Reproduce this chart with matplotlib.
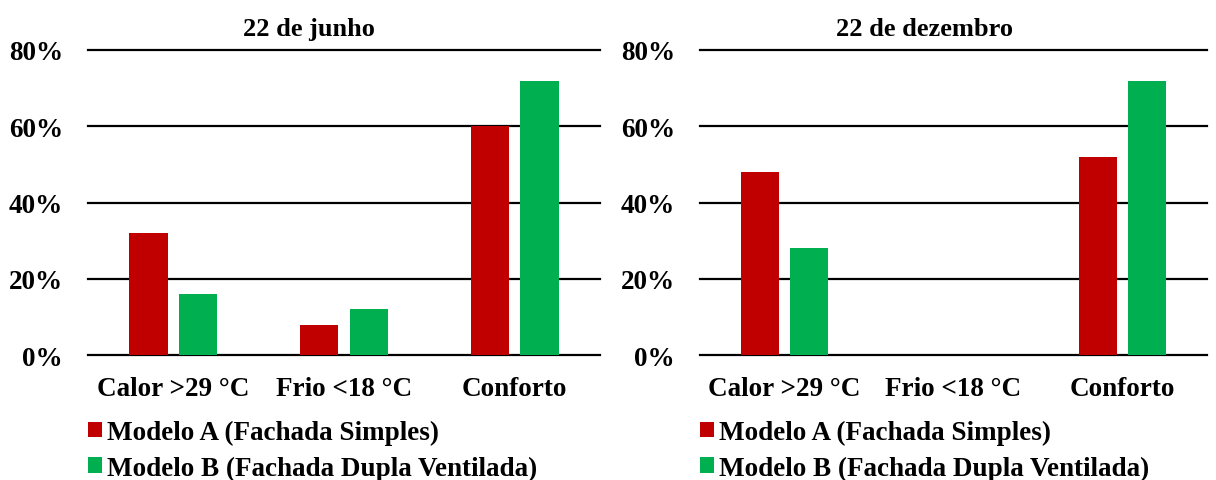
import matplotlib
matplotlib.use("Agg")
import matplotlib.pyplot as plt
import numpy as np

plt.rcParams['font.family'] = ['Liberation Serif', 'DejaVu Serif']
plt.rcParams['font.weight'] = 'bold'

categories = ["Calor >29 °C", "Frio <18 °C", "Conforto"]
series_names = ["Modelo A (Fachada Simples)", "Modelo B (Fachada Dupla Ventilada)"]
titles = ["22 de junho", "22 de dezembro"]
june_A = [32, 8, 60]
june_B = [16, 12, 72]
dec_A = [48, 0, 52]
dec_B = [28, 0, 72]
yticks = [0, 20, 40, 60, 80]
ytick_labels = ["0%", "20%", "40%", "60%", "80%"]
colors = ["#C00000", "#00B050"]

fig = plt.figure(figsize=(12.16, 4.81), dpi=100)
ax1 = fig.add_axes([88/1216, 1-356/481, 512/1216, 305/481])
ax2 = fig.add_axes([700/1216, 1-356/481, 507/1216, 305/481])

FS = 19.5
x = np.arange(len(categories))
w = 0.225
off = 0.145
for ax, A, B, title, tx in [(ax1, june_A, june_B, titles[0], 0.432),
                            (ax2, dec_A, dec_B, titles[1], 0.442)]:
    ax.bar(x - off, A, width=w, color=colors[0], label=series_names[0], zorder=3)
    ax.bar(x + off, B, width=w, color=colors[1], label=series_names[1], zorder=3)
    ax.set_xlim(-0.5, 2.5)
    ax.set_ylim(0, 80)
    ax.set_yticks(yticks)
    ax.set_yticklabels(ytick_labels, fontsize=FS, fontweight='bold')
    ax.set_xticks(x)
    ax.set_xticklabels(categories, fontsize=FS, fontweight='bold')
    ax.tick_params(axis='both', length=0)
    ax.tick_params(axis='y', pad=18)
    ax.tick_params(axis='x', pad=15)
    for s in ax.spines.values():
        s.set_visible(False)
    ax.yaxis.grid(True, color='black', linewidth=1.6, zorder=0)
    for gl in ax.get_ygridlines():
        gl.set_clip_on(False)
    ax.set_axisbelow(True)
    ax.set_title(title, fontsize=FS - 0.5, fontweight='bold', pad=11, x=tx)
    ax.legend(loc='upper left', bbox_to_anchor=(0.0, -0.213), frameon=False,
              prop={'family': 'Liberation Serif', 'weight': 'bold', 'size': FS},
              handlelength=0.5, handleheight=0.5, handletextpad=0.2,
              labelspacing=0.38, borderpad=0, borderaxespad=0)

fig.savefig("out.png", dpi=100)
